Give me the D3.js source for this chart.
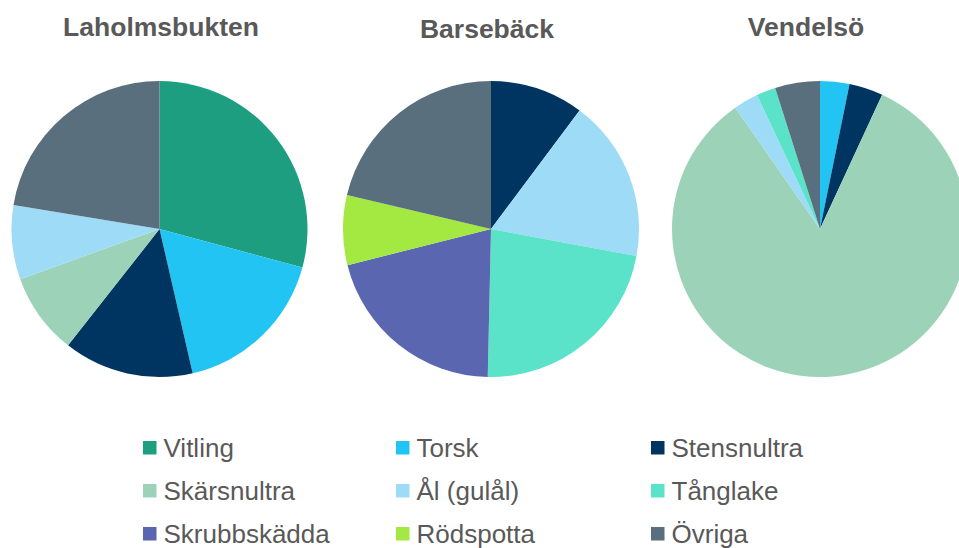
<!DOCTYPE html>
<html><head><meta charset="utf-8">
<script src="https://cdn.jsdelivr.net/npm/d3@7"></script>
<style>html,body{margin:0;padding:0;background:#fff;overflow:hidden}
text{font-family:"Liberation Sans",Arial,Helvetica,sans-serif}</style>
</head><body>
<svg id="chart" width="959" height="548"></svg>
<script>
const categories = ["Vitling","Torsk","Stensnultra","Skärsnultra","Ål (gulål)","Tånglake","Skrubbskädda","Rödspotta","Övriga"];
const colors = ["#1e9e81","#22c4f4","#003562","#9cd3b8","#9ddbf7","#5ae3c8","#5a67b0","#a4e842","#596f7e"];
const sites = ["Laholmsbukten","Barsebäck","Vendelsö"];
const laholmsbukten = [29.2,17.2,14.2,8.9,8.1,0,0,0,22.4];
const barseback = [0,0,10.2,0,17.7,22.4,20.7,7.6,21.3];
const vendelso = [0,3.2,3.7,83.4,2.7,2.1,0,0,4.9];
const seriesValues = [laholmsbukten, barseback, vendelso];

const svg = d3.select("#chart");
const centers = [[159.5,229],[491,229],[820,229]];
const titleX = [161,487,806];
const titleY = [36,38,36];
const R = 148;

const color = d3.scaleOrdinal().domain(categories).range(colors);
const pie = d3.pie().sort(null).value(d => d.v);
const arc = d3.arc().innerRadius(0).outerRadius(R);

sites.forEach((s,i) => {
  const data = categories.map((c,j) => ({c, v: seriesValues[i][j]}));
  const g = svg.append("g").attr("transform", `translate(${centers[i][0]},${centers[i][1]})`);
  g.selectAll("path").data(pie(data).filter(d => d.data.v > 0)).join("path")
    .attr("d", arc).attr("fill", d => color(d.data.c));
  svg.append("text").attr("x", titleX[i]).attr("y", titleY[i])
    .attr("text-anchor","middle")
    .attr("font-weight","bold").attr("font-size", 26.5)
    .attr("fill","#595959").text(s);
});

const legX = [143,396,651];
const legY = [456.5,499.5,542.5];
const leg = svg.append("g");
categories.forEach((c,j) => {
  const col = j % 3, row = Math.floor(j/3);
  leg.append("rect").attr("x", legX[col]).attr("y", legY[row]-15.5)
    .attr("width",13.5).attr("height",13.5).attr("fill", color(c));
  leg.append("text").attr("x", legX[col]+20.5).attr("y", legY[row])
    .attr("font-size", 26).attr("fill","#595959").text(c);
});
</script>
</body></html>
